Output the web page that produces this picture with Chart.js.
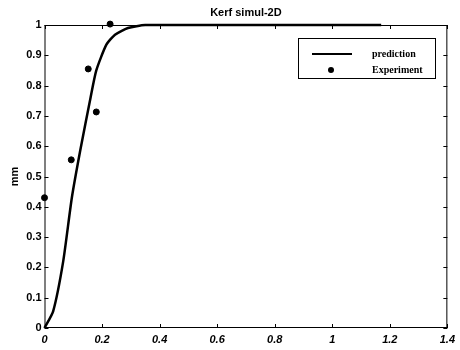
<!DOCTYPE html>
<html><head><meta charset="utf-8">
<script src="https://cdn.jsdelivr.net/npm/chart.js@4/dist/chart.umd.min.js"></script>
<style>html,body{margin:0;padding:0;background:#fff}#wrap{width:460px;height:350px}</style>
</head><body><div id="wrap"><canvas id="c" width="460" height="350"></canvas></div>
<script>
const chartTitle = 'Kerf simul-2D';
const yAxisTitle = 'mm';
const seriesNames = ['prediction', 'Experiment'];
const predX = [0, 0.03, 0.065, 0.095, 0.125, 0.16, 0.18, 0.215, 0.245, 0.29, 0.35, 0.6, 0.9, 1.17];
const predY = [0, 0.055, 0.22, 0.43, 0.59, 0.76, 0.85, 0.935, 0.968, 0.99, 1.0, 1.0, 1.0, 1.0];
const expX = [0, 0.093, 0.152, 0.18, 0.228];
const expY = [0.43, 0.555, 0.855, 0.713, 1.003];
const xTicks = [0, 0.2, 0.4, 0.6, 0.8, 1, 1.2, 1.4];
const yTicks = [0, 0.1, 0.2, 0.3, 0.4, 0.5, 0.6, 0.7, 0.8, 0.9, 1];

const toPts = (xs, ys) => xs.map((x, i) => ({x: x, y: ys[i]}));

const framePlugin = {
  id: 'frame',
  beforeDatasetsDraw(chart) {
    const ctx = chart.ctx, a = chart.chartArea;
    const xs = chart.scales.x, ys = chart.scales.y;
    ctx.save();
    ctx.strokeStyle = '#000';
    ctx.lineWidth = 1;
    ctx.strokeRect(a.left + 0.5, a.top + 0.5, a.right - a.left - 1, a.bottom - a.top - 1);
    ctx.beginPath();
    xTicks.forEach(v => {
      const p = Math.round(xs.getPixelForValue(v)) + 0.5;
      ctx.moveTo(p, a.bottom); ctx.lineTo(p, a.bottom - 4);
      ctx.moveTo(p, a.top); ctx.lineTo(p, a.top + 4);
    });
    yTicks.forEach(v => {
      const p = Math.round(ys.getPixelForValue(v)) + 0.5;
      ctx.moveTo(a.left, p); ctx.lineTo(a.left + 4, p);
      ctx.moveTo(a.right, p); ctx.lineTo(a.right - 4, p);
    });
    ctx.stroke();
    ctx.fillStyle = '#000';
    ctx.font = 'bold 11px "Liberation Sans", Arial, sans-serif';
    ctx.textAlign = 'center'; ctx.textBaseline = 'middle';
    ctx.fillText(chartTitle, (a.left + a.right) / 2, 13);
    ctx.restore();
  },
  afterDatasetsDraw(chart) {
    const ctx = chart.ctx;
    ctx.save();
    ctx.strokeStyle = '#000';
    ctx.lineWidth = 1;
    const bx = 298, by = 38, bw = 137, bh = 40;
    ctx.fillStyle = '#fff';
    ctx.fillRect(bx, by, bw, bh);
    ctx.strokeRect(bx + 0.5, by + 0.5, bw, bh);
    ctx.beginPath();
    ctx.lineWidth = 2;
    ctx.moveTo(312, 54); ctx.lineTo(352, 54);
    ctx.stroke();
    ctx.fillStyle = '#000';
    ctx.beginPath(); ctx.arc(331, 70, 3, 0, Math.PI * 2); ctx.fill();
    ctx.font = 'bold 10px "Liberation Serif", "Times New Roman", serif';
    ctx.textAlign = 'left'; ctx.textBaseline = 'middle';
    ctx.fillText(chart.data.datasets[0].label, 372, 54);
    ctx.fillText(chart.data.datasets[1].label, 372, 70);
    ctx.restore();
  }
};

new Chart(document.getElementById('c'), {
  type: 'scatter',
  data: {
    datasets: [
      {
        label: seriesNames[0], type: 'line', data: toPts(predX, predY),
        borderColor: '#000', borderWidth: 2.5, pointRadius: 0, tension: 0.2, fill: false, clip: false
      },
      {
        label: seriesNames[1], data: toPts(expX, expY),
        backgroundColor: '#000', borderColor: '#000', pointRadius: 3, clip: false
      }
    ]
  },
  options: {
    responsive: false, animation: false,
    layout: {padding: {top: 25, right: 10, left: 8, bottom: 0}},
    plugins: {legend: {display: false}, tooltip: {enabled: false}, title: {display: false}},
    scales: {
      x: {
        type: 'linear', min: 0, max: 1.4,
        afterBuildTicks: s => { s.ticks = xTicks.map(v => ({value: v})); },
        afterFit: s => { s.height = 22; },
        grid: {display: false, drawTicks: false},
        border: {display: false},
        ticks: {color: '#000', padding: 5, maxRotation: 0,
          font: {family: '"Liberation Sans", Arial, sans-serif', size: 11, weight: 'bold', style: 'italic'},
          callback: v => String(v)}
      },
      y: {
        type: 'linear', min: 0, max: 1,
        afterBuildTicks: s => { s.ticks = yTicks.map(v => ({value: v})); },
        afterFit: s => { s.width = 36.5; },
        grid: {display: false, drawTicks: false},
        border: {display: false},
        title: {display: true, text: yAxisTitle, color: '#000', padding: {top: 0, bottom: 0},
          font: {family: '"Liberation Sans", Arial, sans-serif', size: 11, weight: 'bold'}},
        ticks: {color: '#000', padding: 3,
          font: {family: '"Liberation Sans", Arial, sans-serif', size: 11, weight: 'bold'},
          callback: v => String(v)}
      }
    }
  },
  plugins: [framePlugin]
});
</script>
</body></html>
